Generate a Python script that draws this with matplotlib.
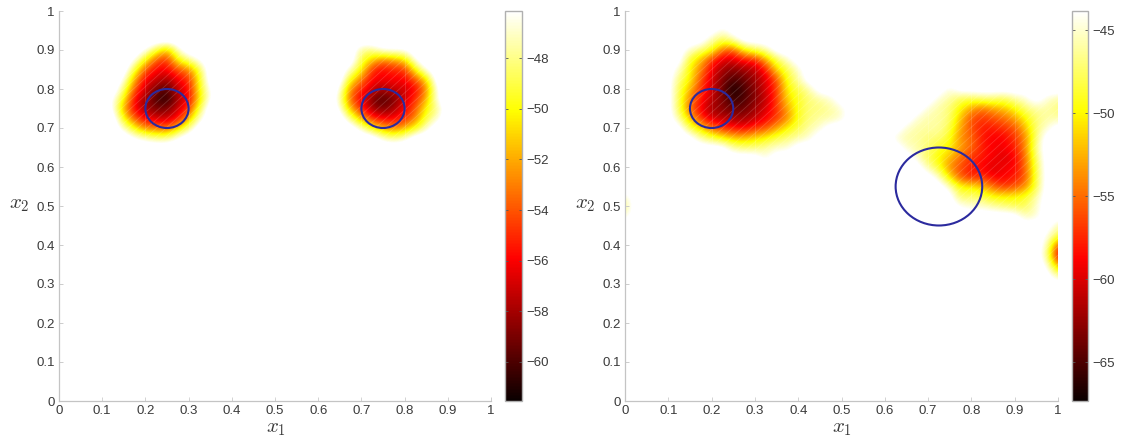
import matplotlib
matplotlib.use("Agg")
import matplotlib.pyplot as plt
import numpy as np
from matplotlib.patches import Ellipse

plt.rcParams["font.family"] = ["Liberation Sans", "DejaVu Sans"]
plt.rcParams["mathtext.fontset"] = "cm"

W = np.nan  # nothing drawn there

# one row per x2 value (top to bottom)
left_a_x = [0.125, 0.15, 0.175, 0.2, 0.225, 0.25, 0.275, 0.3, 0.325, 0.35]
left_a_y = [0.9, 0.875, 0.85, 0.825, 0.8, 0.775, 0.75, 0.725, 0.7, 0.675]
left_a_z = [
    [W, W, W, -46, -49, -52, -47, W, W, W],
    [W, W, -46, -50, -54, -55, -50, -48, -46, W],
    [W, W, -49, -54, -56, -56, -54, -53, -49, W],
    [W, -46, -52, -56, -57, -58, -56, -55, -50, W],
    [W, -48, -54, -57, -59, -60, -57, -56, -50, -46],
    [-46, -50, -56, -58, -60, -61, -58, -56, -51, -46],
    [-46, -52, -56, -58, -59, -59, -57, -55, -49, W],
    [W, -50, -54, -56, -57, -57, -56, -52, -47, W],
    [W, -47, -50, -53, -53, -54, -51, -48, W, W],
    [W, W, -46, -47, -48, -48, -46, W, W, W],
]

left_b_x = [0.65, 0.675, 0.7, 0.725, 0.75, 0.775, 0.8, 0.825, 0.85, 0.875]
left_b_y = [0.9, 0.875, 0.85, 0.825, 0.8, 0.775, 0.75, 0.725, 0.7, 0.675]
left_b_z = [
    [W, W, -48, -48, -46, -46, -46, W, W, W],
    [W, W, -49, -51, -53, -52, -51, -46, W, W],
    [W, -47, -50, -55, -56, -55, -55, -50, -46, W],
    [W, -50, -53, -56, -56, -56, -56, -54, -51, W],
    [-46, -53, -55, -57, -58, -57, -57, -56, -53, -46],
    [-47, -54, -56, -59, -60, -59, -57, -55, -52, -46],
    [-46, -52, -55, -58, -59, -58, -56, -54, -50, -48],
    [W, -48, -52, -55, -56, -56, -55, -53, -49, -47],
    [W, W, -47, -50, -52, -53, -52, -50, -47, W],
    [W, W, W, W, -47, -48, -47, W, W, W],
]

right_a_x = [0.125, 0.15, 0.175, 0.2, 0.225, 0.25, 0.275, 0.3, 0.325, 0.35, 0.375, 0.4, 0.425, 0.45, 0.475, 0.5]
right_a_y = [0.95, 0.925, 0.9, 0.875, 0.85, 0.825, 0.8, 0.775, 0.75, 0.725, 0.7, 0.675, 0.65, 0.625]
right_a_z = [
    [W, W, W, W, -45, W, W, W, W, W, W, W, W, W, W, W],
    [W, W, W, -46, -48, -46, W, W, W, W, W, W, W, W, W, W],
    [W, -45, -47, -49, -55, -56, -50, -48, -46, W, W, W, W, W, W, W],
    [W, -49, -52, -57, -60, -60, -58, -58, -53, -48, -45, W, W, W, W, W],
    [-45, -50, -54, -59, -62, -63, -62, -61, -58, -51, -48, -45, W, W, W, W],
    [-47, -50, -56, -60, -63, -65, -64, -62, -60, -56, -49, -46, W, W, W, W],
    [-48, -52, -57, -60, -64, -67, -65, -63, -60, -57, -50, -48, -46, W, W, W],
    [-48, -54, -58, -61, -63, -66, -65, -63, -61, -57, -51, -49, -47, -46, -45, W],
    [-48, -55, -59, -62, -63, -64, -64, -62, -60, -57, -53, -49, -47, -47, -46, -45],
    [-46, -52, -57, -60, -61, -62, -62, -61, -59, -57, -54, -49, -47, -46, -46, -45],
    [W, -48, -51, -55, -57, -58, -59, -57, -56, -53, -50, -48, -46, -45, W, W],
    [W, W, -46, -48, -50, -52, -52, -51, -50, -48, -47, -46, -45, W, W, W],
    [W, W, W, W, W, -46, -47, -47, -46, -45, -45, W, W, W, W, W],
    [W, W, W, W, W, W, W, W, -45, W, W, W, W, W, W, W],
]

right_b_x = [0.625, 0.65, 0.675, 0.7, 0.725, 0.75, 0.775, 0.8, 0.825, 0.85, 0.875, 0.9, 0.925, 0.95, 0.975, 1.0]
right_b_y = [0.8, 0.775, 0.75, 0.725, 0.7, 0.675, 0.65, 0.625, 0.6, 0.575, 0.55, 0.525, 0.5, 0.475,
             0.45, 0.425, 0.4, 0.375, 0.35, 0.325]
right_b_z = [
    [W, W, W, W, W, -45, W, W, W, W, W, W, W, W, W, W],
    [W, W, W, W, -45, -46, -48, -48, -47, -47, -48, -46, -45, W, -45, -46],
    [W, W, W, -45, -46, -47, -50, -53, -55, -53, -52, -50, -47, -46, -46, -47],
    [W, W, -45, -46, -46, -47, -52, -56, -57, -56, -55, -53, -50, -47, -46, -46],
    [W, -45, -46, -46, -46, -48, -53, -56, -58, -58, -57, -56, -52, -47, -45, W],
    [-45, -46, -46, -47, -47, -49, -54, -55, -58, -59, -59, -57, -54, -47, W, W],
    [W, -45, -46, -47, -49, -50, -53, -55, -58, -59, -59, -58, -54, -46, W, W],
    [W, W, -45, -48, -50, -52, -55, -57, -58, -59, -60, -59, -55, -47, W, W],
    [W, W, W, -46, -49, -54, -56, -58, -59, -60, -59, -59, -55, -48, W, W],
    [W, W, W, W, -45, -51, -56, -58, -57, -59, -59, -58, -56, -48, W, W],
    [W, W, W, W, W, -45, -50, -50, -52, -55, -57, -56, -54, -48, W, W],
    [W, W, W, W, W, W, -48, -47, -48, -50, -50, -50, -49, -46, W, W],
    [W, W, W, W, W, W, -44, -45, -45, -46, -47, -48, -48, -45, W, W],
    [W, W, W, W, W, W, W, W, W, W, W, W, -46, -45, W, W],
    [W, W, W, W, W, W, W, W, W, W, W, W, W, W, W, -46],
    [W, W, W, W, W, W, W, W, W, W, W, W, W, W, -44, -48],
    [W, W, W, W, W, W, W, W, W, W, W, W, W, W, -45, -56],
    [W, W, W, W, W, W, W, W, W, W, W, W, W, W, -46, -60],
    [W, W, W, W, W, W, W, W, W, W, W, W, W, W, -44, -54],
    [W, W, W, W, W, W, W, W, W, W, W, W, W, W, W, -47],
]

right_c_x = [0.0]
right_c_y = [0.525, 0.5, 0.475]
right_c_z = [[-45], [-47], [-45]]

left_patches = [(left_a_x, left_a_y, left_a_z), (left_b_x, left_b_y, left_b_z)]
right_patches = [(right_a_x, right_a_y, right_a_z), (right_b_x, right_b_y, right_b_z),
                 (right_c_x, right_c_y, right_c_z)]

left_range = (-61.54, -46.14)
right_range = (-67.35, -43.85)
left_cticks = [-48, -50, -52, -54, -56, -58, -60]
right_cticks = [-45, -50, -55, -60, -65]

# circles: (x1, x2, radius)
left_circles = [(0.25, 0.75, 0.05), (0.75, 0.75, 0.05)]
right_circles = [(0.2, 0.75, 0.05), (0.725, 0.55, 0.1)]

ticks = np.round(np.arange(0, 1.01, 0.1), 1)
tick_labels = ["0", "0.1", "0.2", "0.3", "0.4", "0.5", "0.6", "0.7", "0.8", "0.9", "1"]

TEXT = "#3a3a3a"
EDGE = "#c4c4c4"
STEP = 0.025
FW, FH = 1122, 437


def to_grid(patches, blank):
    n = int(round(1 / STEP)) + 1
    grid = np.full((n, n), float(blank))
    for xs, ys, zs in patches:
        for j, y in enumerate(ys):
            for i, x in enumerate(xs):
                if not np.isnan(zs[j][i]):
                    grid[int(round(y / STEP)), int(round(x / STEP))] = zs[j][i]
    return grid


def panel(fig, x0, x1, cx0, cx1, patches, vrange, cticks, circles, xlab_x, ylab_x):
    ax = fig.add_axes([x0 / FW, 1 - 401 / FH, (x1 - x0) / FW, 390 / FH])
    grid = to_grid(patches, vrange[1] + 1.5)
    half = STEP / 2
    im = ax.imshow(grid, origin="lower", extent=(-half, 1 + half, -half, 1 + half), cmap="hot",
                   vmin=vrange[0], vmax=vrange[1], interpolation="bicubic", aspect="auto", zorder=1)
    # faint white seams of the original mesh, they only show on the coloured parts
    for off in np.arange(-1, 1, 0.022):
        ax.plot([0, 1], [off, off + 1], color="white", lw=0.6, alpha=0.16, zorder=2)
    for v in np.arange(0.1, 1, 0.1):
        ax.axvline(v, color="white", lw=0.6, alpha=0.16, zorder=2)
    for cx, cy, r in circles:
        ax.add_patch(Ellipse((cx, cy), 2 * r, 2 * r, fill=False, ec="#2b2a9e", lw=1.5, zorder=3))
    ax.set_xlim(0, 1)
    ax.set_ylim(0, 1)
    ax.set_xticks(ticks, tick_labels)
    ax.set_yticks(ticks, tick_labels)
    ax.tick_params(direction="in", length=3, width=0.6, color=EDGE, labelsize=9.5,
                   labelcolor=TEXT, pad=3)
    for name in ["top", "right"]:
        ax.spines[name].set_visible(False)
    for name in ["left", "bottom"]:
        ax.spines[name].set_color(EDGE)
        ax.spines[name].set_linewidth(0.9)
    fig.text(xlab_x / FW, 1 - 428 / FH, "$x_1$", fontsize=15, color=TEXT, ha="center", va="center")
    fig.text(ylab_x / FW, 1 - 205 / FH, "$x_2$", fontsize=15, color=TEXT, ha="center", va="center")

    cax = fig.add_axes([cx0 / FW, 1 - 401 / FH, (cx1 - cx0) / FW, 390 / FH])
    cb = fig.colorbar(im, cax=cax)
    cb.set_ticks(cticks)
    cb.set_ticklabels(["\u2212" + str(abs(t)) for t in cticks])
    cax.tick_params(direction="in", length=2.5, width=0.6, color="#555555", labelsize=9.5,
                    labelcolor=TEXT, left=True, right=True, pad=3)
    cb.outline.set_edgecolor("#b0b0b0")
    cb.outline.set_linewidth(1.0)


fig = plt.figure(figsize=(FW / 100, FH / 100), dpi=100)
panel(fig, 59, 491, 505, 522, left_patches, left_range, left_cticks, left_circles, 276, 19)
panel(fig, 625, 1058, 1072, 1088, right_patches, right_range, right_cticks, right_circles, 842, 585)
fig.savefig("out.png", dpi=100)
